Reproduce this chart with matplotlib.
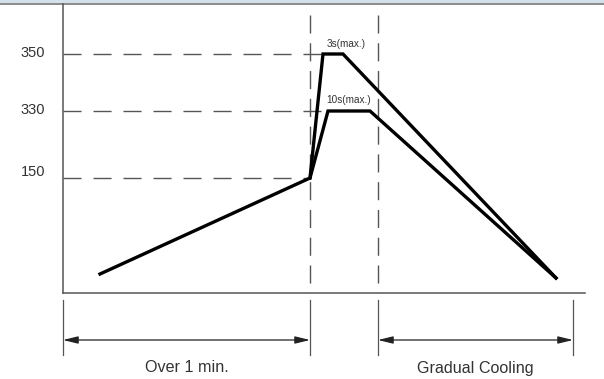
import numpy as np
import matplotlib.pyplot as plt

# schematic reflow profile, drawn in the picture's own units (x: time, y: down = cooler)
level_labels = ["350", "330", "150"]
level_y = [54, 111, 178]
level_dash_end = [323, 328, 310]

profile_350_x = [100, 310, 323, 343, 556]
profile_350_y = [274, 178, 54, 54, 278]
profile_330_x = [310, 328, 370, 556]
profile_330_y = [178, 111, 111, 278]

phase_x = [310, 378]
span_left = [63, 310]
span_right = [378, 573]
span_labels = ["Over 1 min.", "Gradual Cooling"]

fig = plt.figure(figsize=(6.04, 3.79), dpi=100)
ax = fig.add_axes([0, 0, 1, 1])
ax.set_xlim(0, 604)
ax.set_ylim(379, 0)
ax.set_axis_off()

grey = "#555555"
txt = "#333333"
font = ["Liberation Sans", "DejaVu Sans"]

# top frame strip
ax.fill_between([0, 604], 0, 3, color="#d6e0ec", lw=0)
ax.plot([0, 604], [4, 4], color="#777777", lw=1.2)

# axes
ax.plot([63, 63], [4, 293], color=grey, lw=1.1)
ax.plot([63, 585], [293, 293], color=grey, lw=1.1)

hdash = (0, (13, 8.6))
vdash = (0, (13, 7))
for lab, y, xe in zip(level_labels, level_y, level_dash_end):
    ax.plot([63, xe], [y, y], color=grey, lw=1.0, linestyle=hdash)
    # the lowest label sits a little above its line in the original
    off = -6 if lab == "150" else -1
    ax.text(33, y + off, lab, ha="center", va="center", fontsize=10.5,
            color=txt, family=font)

for x in phase_x:
    ax.plot([x, x], [15, 293], color=grey, lw=1.0, linestyle=vdash)

# extension lines below the axis
for x in [span_left[0], span_left[1], span_right[0], span_right[1]]:
    ax.plot([x, x], [300, 355], color=grey, lw=0.9)

for (a, b), lab in zip([span_left, span_right], span_labels):
    ax.annotate("", xy=(a, 340), xytext=(b, 340),
                arrowprops=dict(arrowstyle="<|-|>,head_length=0.9,head_width=0.22",
                                color="#222222", lw=0.9,
                                mutation_scale=10, shrinkA=0, shrinkB=0))
    ax.text((a + b) / 2, 368, lab, ha="center", va="center", fontsize=11.6,
            color=txt, family=font)

ax.plot(profile_350_x, profile_350_y, color="black", lw=2.4,
        solid_joinstyle="miter")
ax.plot(profile_330_x, profile_330_y, color="black", lw=2.4,
        solid_joinstyle="miter")

ax.text(346, 44, "3s(max.)", ha="center", va="center", fontsize=7.2,
        color=txt, family=font)
ax.text(349, 100, "10s(max.)", ha="center", va="center", fontsize=7.2,
        color=txt, family=font)

plt.savefig("out.png", dpi=100)
